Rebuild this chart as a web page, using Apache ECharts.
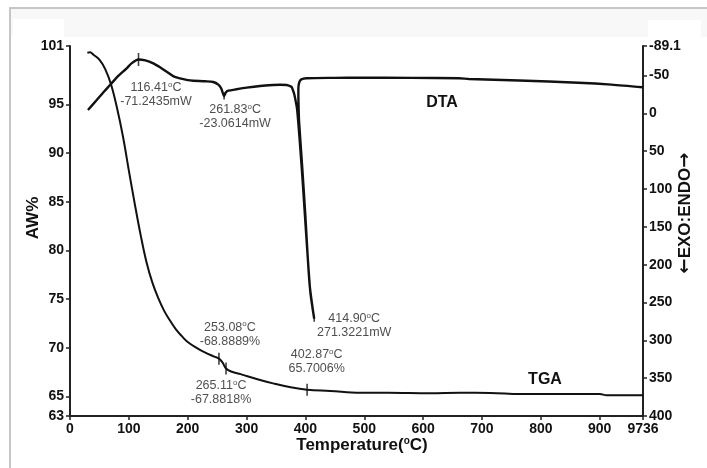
<!DOCTYPE html>
<html>
<head>
<meta charset="utf-8">
<script src="https://cdn.jsdelivr.net/npm/echarts@6/dist/echarts.min.js"></script>
<style>
  html, body { margin: 0; padding: 0; background: #fff; }
  #chart { width: 707px; height: 468px; }
</style>
</head>
<body>
<div id="chart"></div>
<script>
// Temperature axis ticks and their printed labels
const xTickValues = [0, 100, 200, 300, 400, 500, 600, 700, 800, 900, 973.6];
const xTickLabels = ['0', '100', '200', '300', '400', '500', '600', '700', '800', '900', '9736'];
// Left axis: AW%
const awTickValues = [63, 65, 70, 75, 80, 85, 90, 95, 101];
// Right axis: DTA signal (EXO:ENDO), drawn inverted
const dtaTickValues = [-89.1, -50, 0, 50, 100, 150, 200, 250, 300, 350, 400];

// TGA curve: temperature (°C) and remaining weight (AW%)
const tgaTemp = [29.5, 34, 40, 50, 60, 70, 80, 90, 100, 110, 120, 130, 140, 150, 160, 170, 180, 190, 200, 215, 230, 245, 253.08, 259, 265.11, 275, 290, 300, 320, 345, 375, 402.87, 442, 493, 540, 612, 663, 714, 765, 900, 912, 973.6];
const tgaAW = [100.3, 100.35, 100.1, 99.6, 98.6, 97.0, 94.6, 91.7, 88.2, 84.8, 81.6, 78.8, 76.7, 75.1, 73.8, 72.8, 71.9, 71.2, 70.6, 70.0, 69.5, 69.1, 68.8889, 68.5, 67.8818, 67.55, 67.3, 67.1, 66.75, 66.35, 65.95, 65.7006, 65.57, 65.38, 65.38, 65.33, 65.38, 65.37, 65.26, 65.26, 65.13, 65.13];

// DTA curve: temperature (°C) and signal (mW)
const dtaTemp = [30.5, 45.4, 58, 68, 80, 96.3, 105, 116.41, 128, 141.5, 153, 164.3, 176, 187, 200, 209.5, 230, 243.5, 252, 257, 261.83, 265, 269, 283, 300, 323, 345, 357, 368, 374, 377, 380, 382, 386, 394, 408, 414.9, 407, 399.5, 394.3, 389.2, 388.2, 388, 389.5, 393, 402, 450, 491, 580, 661, 678, 763, 864, 920, 973.6];
const dtaMW = [-4.5, -17.7, -29, -37.5, -48, -59.6, -66.5, -71.2435, -70, -66.2, -61, -55.1, -49, -46.4, -44, -43.2, -42.5, -41.5, -38, -33, -23.0614, -28, -30, -31.9, -34, -36.2, -37.5, -37.9, -37.5, -36, -34.5, -28, -22.1, -4.5, 74.8, 233.4, 271.3221, 225, 130, 68, 10, -15, -32, -41, -45, -46.5, -47, -47.2, -47, -46.4, -45.5, -43.5, -40.5, -38, -34.5];

// Annotated points on the DTA curve
const dtaMarkTemps = [116.41, 261.83, 414.90];
const dtaMarkValues = [-71.2435, -23.0614, 271.3221];
const dtaMarkTexts = ['-71.2435mW', '-23.0614mW', '271.3221mW'];
// Annotated points on the TGA curve
const tgaMarkTemps = [253.08, 265.11, 402.87];
const tgaMarkValues = [68.8889, 67.8818, 65.7006];
const tgaMarkTexts = ['-68.8889%', '-67.8818%', '65.7006%'];

const FONT = 'Liberation Sans, Arial, sans-serif';
const INK = '#111';

function zip(a, b) { return a.map((v, i) => [v, b[i]]); }

const labelRich = {
  o: { fontSize: 8, fontFamily: FONT, color: '#222', verticalAlign: 'top', lineHeight: 8 }
};

function markData(temps, values, texts, offsets, sizes) {
  return temps.map((t, i) => ({
    value: [t, values[i]],
    symbolSize: sizes[i],
    label: {
      offset: offsets[i],
      formatter: t.toFixed(2) + '{o|o}C\n' + texts[i]
    }
  }));
}

const markLabel = {
  show: true,
  position: 'inside',
  align: 'center',
  verticalAlign: 'middle',
  fontSize: 12.5,
  lineHeight: 14,
  fontFamily: FONT,
  color: '#222',
  rich: labelRich
};

const axisLineStyle = { show: true, onZero: false, lineStyle: { color: '#222', width: 2 } };

const chart = echarts.init(document.getElementById('chart'), null, { renderer: 'canvas' });

chart.setOption({
  animation: false,
  backgroundColor: '#fff',
  grid: { left: 70, right: 64, top: 46, bottom: 52, containLabel: false },
  xAxis: {
    type: 'value',
    min: 0,
    max: 973.6,
    axisLine: axisLineStyle,
    axisTick: { show: true, length: 4, customValues: xTickValues, lineStyle: { color: '#222', width: 1.5 } },
    axisLabel: {
      customValues: xTickValues,
      formatter: v => xTickLabels[xTickValues.indexOf(v)],
      fontFamily: FONT, fontWeight: 'bold', fontSize: 14, color: INK, margin: 6
    },
    splitLine: { show: false }
  },
  yAxis: [
    {
      type: 'value',
      position: 'left',
      min: 63,
      max: 101,
      axisLine: axisLineStyle,
      axisTick: { show: true, length: 4, customValues: awTickValues, lineStyle: { color: '#222', width: 1.5 } },
      axisLabel: {
        customValues: awTickValues,
        fontFamily: FONT, fontWeight: 'bold', fontSize: 14, color: INK, margin: 6
      },
      splitLine: { show: false }
    },
    {
      type: 'value',
      position: 'right',
      inverse: true,
      min: -89.1,
      max: 400,
      axisLine: axisLineStyle,
      axisTick: { show: true, length: 4, customValues: dtaTickValues, lineStyle: { color: '#222', width: 1.5 } },
      axisLabel: {
        customValues: dtaTickValues,
        fontFamily: FONT, fontWeight: 'bold', fontSize: 14, color: INK, margin: 6
      },
      splitLine: { show: false }
    }
  ],
  series: [
    {
      name: 'TGA',
      type: 'line',
      yAxisIndex: 0,
      data: zip(tgaTemp, tgaAW),
      showSymbol: false,
      smooth: 0.4,
      lineStyle: { color: INK, width: 2 },
      z: 3
    },
    {
      name: 'DTA',
      type: 'line',
      yAxisIndex: 1,
      data: zip(dtaTemp, dtaMW),
      showSymbol: false,
      smooth: 0.25,
      lineStyle: { color: INK, width: 2.4 },
      z: 3
    },
    {
      name: 'DTA marks',
      type: 'scatter',
      yAxisIndex: 1,
      symbol: 'rect',
      itemStyle: { color: INK },
      label: markLabel,
      data: markData(dtaMarkTemps, dtaMarkValues, dtaMarkTexts,
        [[17.5, 35.5], [11, 20.7], [40, 7]],
        [[1.6, 13], [1.6, 7], [1.6, 6]]),
      z: 4
    },
    {
      name: 'TGA marks',
      type: 'scatter',
      yAxisIndex: 0,
      symbol: 'rect',
      itemStyle: { color: INK },
      label: markLabel,
      data: markData(tgaMarkTemps, tgaMarkValues, tgaMarkTexts,
        [[11, -24.5], [-5, 24], [9.6, -28]],
        [[1.6, 12], [1.6, 12], [1.6, 12]]),
      z: 4
    }
  ],
  graphic: [
    // light header band and frame
    { type: 'rect', z: -10, silent: true, shape: { x: 11, y: 9, width: 696, height: 28 }, style: { fill: '#f8f8f8' } },
    { type: 'rect', z: -9, silent: true, shape: { x: 13, y: 19, width: 51, height: 20 }, style: { fill: '#fff' } },
    { type: 'rect', z: -9, silent: true, shape: { x: 648, y: 20, width: 53, height: 18 }, style: { fill: '#fff' } },
    { type: 'line', z: -8, silent: true, shape: { x1: 9, y1: 8, x2: 707, y2: 8 }, style: { stroke: '#c6c6c6', lineWidth: 2 } },
    { type: 'line', z: -8, silent: true, shape: { x1: 10, y1: 8, x2: 10, y2: 468 }, style: { stroke: '#c6c6c6', lineWidth: 2 } },
    // axis titles
    {
      type: 'text', x: 33, y: 218, rotation: Math.PI / 2, silent: true,
      style: { text: 'AW%', font: 'bold 17px ' + FONT, fill: INK, align: 'center', verticalAlign: 'middle', textAlign: 'center', textVerticalAlign: 'middle' }
    },
    {
      type: 'text', x: 685, y: 213, rotation: Math.PI / 2, silent: true,
      style: {
        text: '{a|\u2190}EXO:ENDO{a|\u2192}', font: 'bold 17px ' + FONT, fill: INK,
        align: 'center', verticalAlign: 'middle', textAlign: 'center', textVerticalAlign: 'middle',
        rich: { a: { font: 'bold 18px DejaVu Sans', fill: INK } }
      }
    },
    {
      type: 'text', x: 362, y: 445, silent: true,
      style: {
        text: 'Temperature({o|o}C)', font: 'bold 17px ' + FONT, fill: INK,
        align: 'center', verticalAlign: 'middle', textAlign: 'center', textVerticalAlign: 'middle',
        rich: { o: { font: 'bold 10px ' + FONT, fill: INK, verticalAlign: 'top', lineHeight: 10 } }
      }
    },
    // curve names
    {
      type: 'text', x: 442, y: 103, silent: true,
      style: { text: 'DTA', font: 'bold 16px ' + FONT, fill: INK, align: 'center', verticalAlign: 'middle', textAlign: 'center', textVerticalAlign: 'middle' }
    },
    {
      type: 'text', x: 545, y: 380, silent: true,
      style: { text: 'TGA', font: 'bold 16px ' + FONT, fill: INK, align: 'center', verticalAlign: 'middle', textAlign: 'center', textVerticalAlign: 'middle' }
    }
  ]
});
</script>
</body>
</html>
